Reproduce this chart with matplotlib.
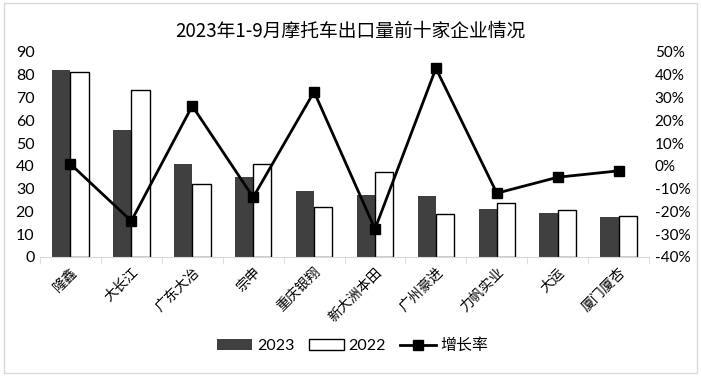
import numpy as np
import matplotlib
matplotlib.use('Agg')
from matplotlib import pyplot as plt
from matplotlib.ticker import FuncFormatter

plt.rcParams['font.family'] = ['Lato', 'Noto Sans CJK SC', 'DejaVu Sans']

companies = ['隆鑫', '大长江', '广东大冶', '宗申', '重庆银翔', '新大洲本田', '广州豪进', '力帆实业', '大运', '厦门厦杏']
vol_2023 = [82.0, 55.7, 40.7, 35.0, 29.0, 27.2, 26.9, 20.9, 19.4, 17.5]
vol_2022 = [81.0, 73.2, 31.9, 40.7, 21.9, 37.4, 18.9, 23.5, 20.5, 17.8]
growth = [0.8, -24.2, 26.3, -13.8, 32.5, -27.7, 42.8, -12.0, -5.0, -2.2]  # %

fig = plt.figure(figsize=(7.01, 3.76), dpi=100)
ax = fig.add_axes([0.057, 0.3165, 0.869, 0.5455])
x = np.arange(len(companies))
w = 0.3
ax.bar(x - w / 2, vol_2023, w, color='#404040', label='2023', zorder=2)
ax.bar(x + w / 2, vol_2022, w, color='white', edgecolor='black', linewidth=1, label='2022', zorder=2)
ax.set_xlim(-0.5, len(companies) - 0.5)
ax.set_ylim(0, 90)
ax.set_yticks(range(0, 91, 10))
ax.tick_params(axis='y', length=0, labelsize=11.5, pad=4)
ax.set_xticks(x)
ax.set_xticklabels(companies, rotation=45, ha='right', rotation_mode='anchor', fontsize=10,
                   family=['Noto Sans CJK SC'], fontweight='light')
ax.tick_params(axis='x', length=0, pad=6)
ax.set_xticks(np.arange(-0.5, len(companies)), minor=True)
ax.tick_params(axis='x', which='minor', length=5, color='#d9d9d9', direction='out')
for s in ['top', 'left', 'right']:
    ax.spines[s].set_visible(False)
ax.spines['bottom'].set_color('#d9d9d9')

ax2 = ax.twinx()
ax2.plot(x, growth, color='black', lw=2, marker='s', markersize=6.5, label='增长率', zorder=3)
ax2.set_ylim(-40, 50)
ax2.set_yticks(range(-40, 51, 10))
ax2.yaxis.set_major_formatter(FuncFormatter(lambda v, p: f'{v:.0f}%'))
ax2.tick_params(axis='y', length=0, labelsize=11, pad=4)
for s in ['top', 'left', 'right', 'bottom']:
    ax2.spines[s].set_visible(False)

fig.suptitle('2023年1-9月摩托车出口量前十家企业情况', y=0.945, fontsize=13.5,
             family=['Noto Sans CJK SC'])

h1, l1 = ax.get_legend_handles_labels()
h2, l2 = ax2.get_legend_handles_labels()
fig.legend(h1 + h2, l1 + l2, loc='center', bbox_to_anchor=(0.503, 0.08), ncol=3, frameon=False,
           fontsize=11.5, handlelength=2.2, handletextpad=0.3, columnspacing=0.9)

fig.patches.append(plt.Rectangle((0.005, 0.008), 0.99, 0.985, transform=fig.transFigure,
                                 fill=False, edgecolor='#d9d9d9', lw=1))
fig.savefig('out.png', dpi=100)
